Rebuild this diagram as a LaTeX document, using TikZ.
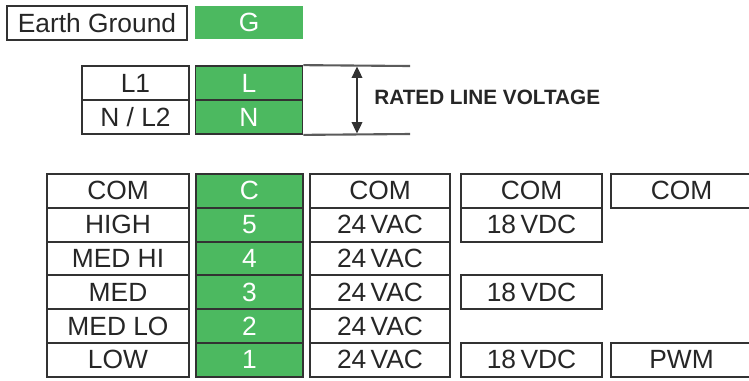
\documentclass[tikz,border=0pt]{standalone}
\usepackage{fontspec}
\setmainfont{Liberation Sans}
\usetikzlibrary{arrows.meta}
\definecolor{termgreen}{RGB}{76,185,96}
\definecolor{edgegray}{RGB}{50,50,50}
\tikzset{
  cell/.style={draw=edgegray, line width=1.1pt, inner sep=0pt, minimum height=0.676cm,
    text=black!85, font=\fontsize{15}{15}\selectfont},
  pin/.style={cell, fill=termgreen, text=white, minimum width=2.14cm},
  wide/.style={cell, minimum width=2.82cm},
}
\begin{document}
\begin{tikzpicture}[x=0.02cm,y=-0.02cm]
\useasboundingbox (0,0) rectangle (749,380);
% ground terminal
\node[cell, minimum width=3.6cm] (earth) at (97,23) {Earth Ground};
\node[pin, draw=none, minimum width=2.16cm] (pinG) at (249,22.5) {G};
% line voltage terminals
\node[cell, minimum width=2.14cm] (l1) at (135.5,83) {L1};
\node[cell, minimum width=2.14cm] (l2) at (135.5,117) {N / L2};
\node[pin] (pinL) at (249,83) {L};
\node[pin] (pinN) at (249,117) {N};
\coordinate (topend) at (410,66);
\coordinate (botend) at (410,134);
\coordinate (vtop) at (357,66.5);
\coordinate (vbot) at (357,133.5);
\draw[edgegray!80, line width=1.2pt] (pinL.north east) -- (topend);
\draw[edgegray!80, line width=1.2pt] (pinN.south east) -- (botend);
\draw[edgegray, line width=1.1pt, {Triangle[length=6.5pt,width=6pt]}-{Triangle[length=6.5pt,width=6pt]}] (vtop) -- (vbot);
\node[anchor=west, inner sep=0pt, text=black!85, font=\fontsize{11.8}{12}\bfseries] (rated) at (374,97) {RATED LINE VOLTAGE};
% motor taps
\foreach \lbl/\tap [count=\i from 0] in {COM/C, HIGH/5, MED HI/4, MED/3, MED LO/2, LOW/1} {
  \node[cell, minimum width=2.84cm] (mode\i) at (118,{190.9+33.8*\i}) {\lbl};
  \node[pin] (tap\i) at (249.5,{190.9+33.8*\i}) {\tap};
}
\foreach \lbl [count=\i from 0] in {COM, 24\,VAC, 24\,VAC, 24\,VAC, 24\,VAC, 24\,VAC}
  \node[cell, minimum width=2.8cm] (vac\i) at (380,{190.9+33.8*\i}) {\lbl};
% dc and pwm inputs
\node[wide] (vdc0) at (531.5,190.9) {COM};
\node[wide] (vdc1) at (531.5,224.7) {18\,VDC};
\node[wide] (vdc3) at (531.5,292.3) {18\,VDC};
\node[wide] (vdc5) at (531.5,359.9) {18\,VDC};
\node[wide] (pwm0) at (681.5,190.9) {COM};
\node[wide] (pwm5) at (681.5,359.9) {PWM};
\end{tikzpicture}
\end{document}
